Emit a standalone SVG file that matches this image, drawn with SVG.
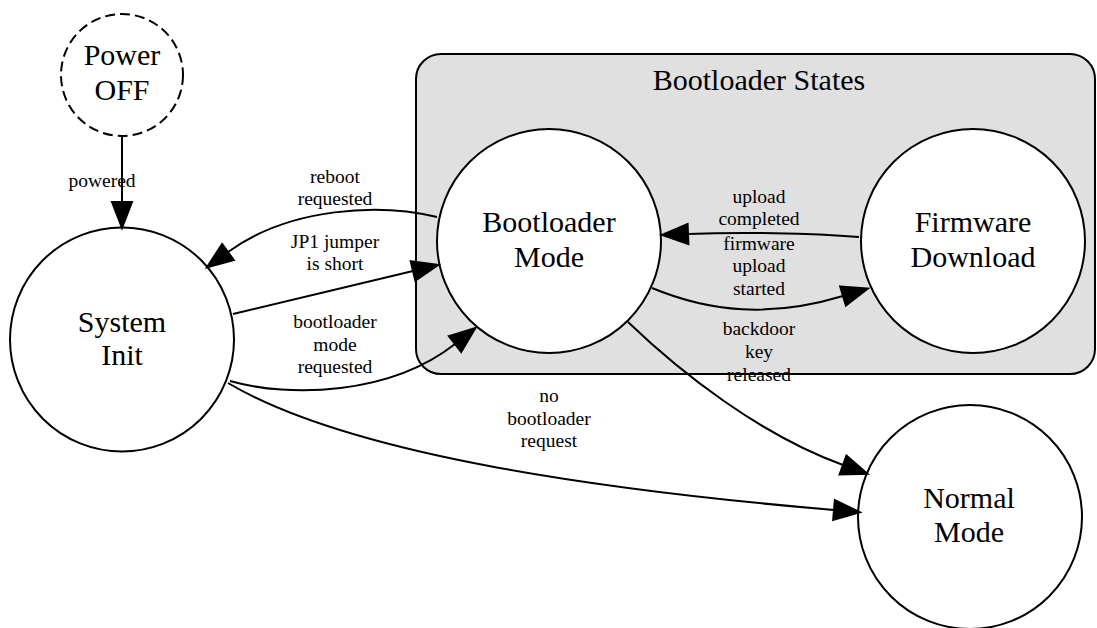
<svg xmlns="http://www.w3.org/2000/svg" width="1097" height="628" viewBox="0 0 1097 628">
<style>
.node{fill:#ffffff;stroke:#000;stroke-width:2}
.nt{font-family:"Liberation Serif","Times New Roman",serif;font-size:30px;text-anchor:middle;fill:#000}
.lt{font-family:"Liberation Serif","Times New Roman",serif;font-size:19.5px;text-anchor:middle;fill:#000}
.edge{fill:none;stroke:#000;stroke-width:2;marker-end:url(#arrow)}
</style>
<defs>
<marker id="arrow" markerUnits="userSpaceOnUse" viewBox="0 0 26 20" refX="0" refY="10" markerWidth="26" markerHeight="20" orient="auto" overflow="visible">
<path d="M0,0 L26,10 L0,20 Z" fill="#000" stroke="#000" stroke-width="2" stroke-linejoin="miter"/>
</marker>
</defs>
<rect width="1097" height="628" fill="#ffffff"/>
<g id="cluster_bootloader">
<rect x="416" y="54" width="679" height="320" rx="25" ry="25" fill="#e0e0e0" stroke="#000" stroke-width="2"/>
<text class="nt" x="759" y="90">Bootloader States</text>
</g>
<g id="power_off">
<circle cx="122" cy="75" r="61" fill="#ffffff" stroke="#000" stroke-width="2" stroke-dasharray="10,5"/>
<text class="nt" x="122" y="65">Power</text>
<text class="nt" x="122" y="100">OFF</text>
</g>
<g id="system_init">
<circle class="node" cx="122" cy="339.5" r="112"/>
<text class="nt" x="122" y="332">System</text>
<text class="nt" x="122" y="365">Init</text>
</g>
<g id="bootloader_mode">
<circle class="node" cx="549" cy="241" r="112"/>
<text class="nt" x="549" y="232">Bootloader</text>
<text class="nt" x="549" y="267">Mode</text>
</g>
<g id="firmware_download">
<circle class="node" cx="973" cy="241" r="112"/>
<text class="nt" x="973" y="232">Firmware</text>
<text class="nt" x="973" y="267">Download</text>
</g>
<g id="normal_mode">
<circle class="node" cx="970" cy="517" r="112"/>
<text class="nt" x="969" y="508">Normal</text>
<text class="nt" x="969" y="542">Mode</text>
</g>
<g id="connectors">
<path class="edge" d="M122,137 L122,202"/>
<text class="lt" x="102" y="187">powered</text>
<path class="edge" d="M437,217 C380,203 290,207 228,252"/>
<text class="lt" x="335" y="183">reboot</text>
<text class="lt" x="335" y="205">requested</text>
<path class="edge" d="M233,314 L413,271"/>
<text class="lt" x="335" y="248">JP1 jumper</text>
<text class="lt" x="335" y="270">is short</text>
<path class="edge" d="M230,381 C290,398 390,395 455,344"/>
<text class="lt" x="335" y="328">bootloader</text>
<text class="lt" x="335" y="351">mode</text>
<text class="lt" x="335" y="373">requested</text>
<path class="edge" d="M228,383 C350,455 600,490 834,510"/>
<text class="lt" x="549" y="402">no</text>
<text class="lt" x="549" y="425">bootloader</text>
<text class="lt" x="549" y="447">request</text>
<path class="edge" d="M859,237 C810,233 740,232 688,234"/>
<text class="lt" x="759" y="203">upload</text>
<text class="lt" x="759" y="225">completed</text>
<path class="edge" d="M652,288 C710,312 770,318 843,296"/>
<text class="lt" x="759" y="250">firmware</text>
<text class="lt" x="759" y="272">upload</text>
<text class="lt" x="759" y="295">started</text>
<path class="edge" d="M628,322 C680,372 760,435 843,465"/>
<text class="lt" x="759" y="335">backdoor</text>
<text class="lt" x="759" y="358">key</text>
<text class="lt" x="759" y="381">released</text>
</g>
</svg>
